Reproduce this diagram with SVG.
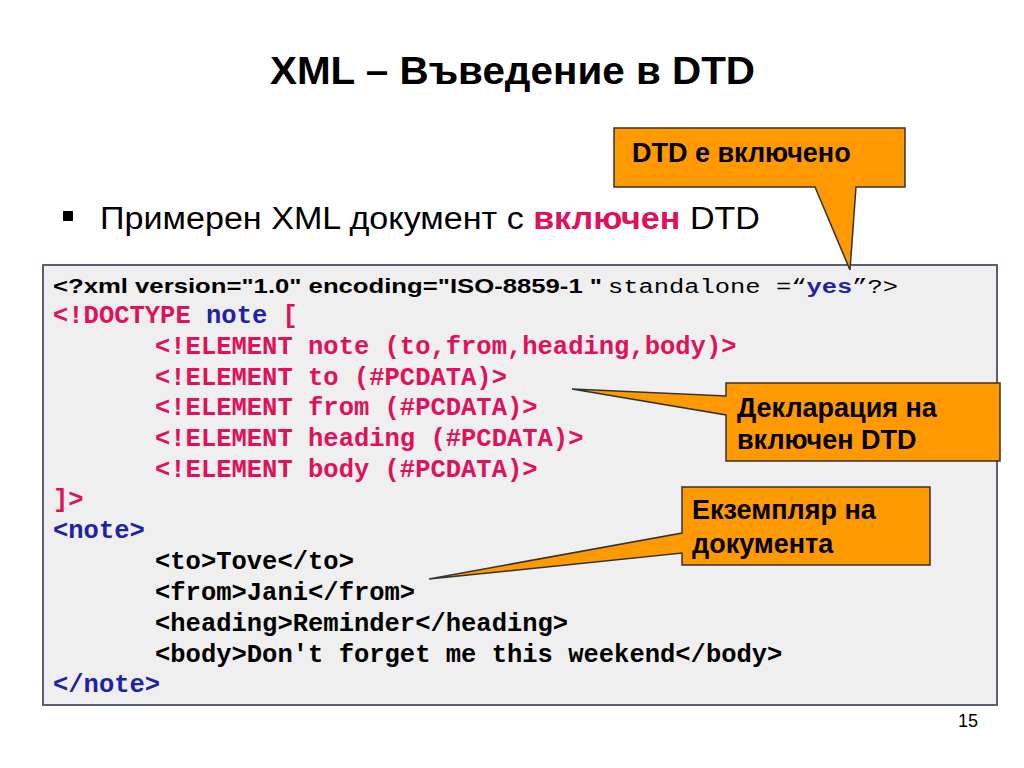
<svg xmlns="http://www.w3.org/2000/svg" width="1024" height="768" viewBox="0 0 1024 768">
<style>
.c{font-family:"Liberation Mono",monospace;font-weight:bold;font-size:25.5px}
.p{fill:#e0105a}.b{fill:#1e22a8}.k{fill:#000}
.call{fill:#ff9900;stroke:#333;stroke-width:1.5}
.ct{font-family:"Liberation Sans",Arial,sans-serif;font-weight:bold;font-size:27px;fill:#000}
</style>
<rect width="1024" height="768" fill="#fff"/>
<text x="270" y="84" textLength="485" lengthAdjust="spacingAndGlyphs" font-family="Liberation Sans,Arial,sans-serif" font-weight="bold" font-size="38">XML  – Въведение в DTD</text>
<rect x="63" y="211" width="10" height="10" fill="#000"/>
<text x="100" y="229" textLength="660" lengthAdjust="spacingAndGlyphs" font-family="Liberation Sans,Arial,sans-serif" font-size="31">Примерен XML документ с <tspan fill="#e0105a" font-weight="bold">включен</tspan> DTD</text>
<g id="code">
<rect x="43" y="265" width="954" height="440" fill="#efefef" stroke="#556070" stroke-width="2"/>
<text x="53" y="293"><tspan font-family="Liberation Sans,Arial,sans-serif" font-weight="bold" font-size="21" textLength="549" lengthAdjust="spacingAndGlyphs">&lt;?xml version="1.0" encoding="ISO-8859-1 "</tspan><tspan font-family="Liberation Mono,monospace" font-size="20" dx="6" textLength="290" lengthAdjust="spacingAndGlyphs">standalone =“<tspan fill="#1e22a8" font-weight="bold">yes</tspan>”?&gt;</tspan></text>
<text class="c" x="53" y="323"><tspan class="p">&lt;!DOCTYPE</tspan><tspan class="b"> note </tspan><tspan class="p">[</tspan></text>
<text class="c p" x="155" y="354">&lt;!ELEMENT note (to,from,heading,body)&gt;</text>
<text class="c p" x="155" y="385">&lt;!ELEMENT to (#PCDATA)&gt;</text>
<text class="c p" x="155" y="415">&lt;!ELEMENT from (#PCDATA)&gt;</text>
<text class="c p" x="155" y="446">&lt;!ELEMENT heading (#PCDATA)&gt;</text>
<text class="c p" x="155" y="477">&lt;!ELEMENT body (#PCDATA)&gt;</text>
<text class="c p" x="53" y="507">]&gt;</text>
<text class="c b" x="53" y="538">&lt;note&gt;</text>
<text class="c k" x="155" y="569">&lt;to&gt;Tove&lt;/to&gt;</text>
<text class="c k" x="155" y="600">&lt;from&gt;Jani&lt;/from&gt;</text>
<text class="c k" x="155" y="631">&lt;heading&gt;Reminder&lt;/heading&gt;</text>
<text class="c k" x="155" y="662">&lt;body&gt;Don't forget me this weekend&lt;/body&gt;</text>
<text class="c b" x="53" y="692">&lt;/note&gt;</text>
</g>
<g id="callout1">
<path class="call" d="M614,128 H905 V187 H856 L850,270 L815,187 H614 Z"/>
<text class="ct" x="632" y="162" font-size="24">DTD е включено</text>
</g>
<g id="callout2">
<path class="call" d="M726,383 H1000 V461 H726 V415 L572,389 L726,396 Z"/>
<text class="ct" x="737" y="417">Декларация на</text>
<text class="ct" x="737" y="449">включен DTD</text>
</g>
<g id="callout3">
<path class="call" d="M682,487 H930 V565 H682 V553 L429,579 L682,533 Z"/>
<text class="ct" x="692" y="519">Екземпляр на</text>
<text class="ct" x="692" y="553">документа</text>
</g>
<text x="958" y="727" font-family="Liberation Sans,Arial,sans-serif" font-size="18">15</text>
</svg>
